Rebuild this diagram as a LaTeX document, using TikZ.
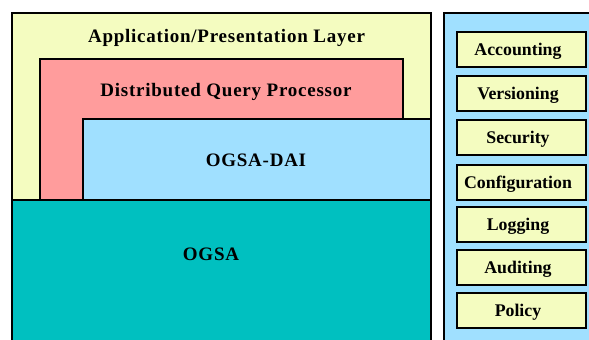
\documentclass[tikz,border=0pt]{standalone}
\usepackage{fontspec}
\setmainfont{Liberation Serif}
\definecolor{cyel}{HTML}{F4FCC0}
\definecolor{cpink}{HTML}{FF9C9C}
\definecolor{cblue}{HTML}{A0E0FF}
\definecolor{cteal}{HTML}{00C0C0}
\begin{document}
\begin{tikzpicture}[x=1pt,y=-1pt,
  layer/.style={draw=black,line width=2.2pt},
  svc/.style={draw=black,line width=2.6pt,fill=cyel},
  biglabel/.style={anchor=base,inner sep=0pt,font=\fontsize{19}{22}\selectfont\bfseries\addfontfeature{LetterSpace=4}},
  svclabel/.style={anchor=base,inner sep=0pt,font=\fontsize{17.8}{20}\selectfont\bfseries}]
\useasboundingbox (0,0) rectangle (589,340);
\clip (0,0) rectangle (589,340);
\fill[white] (0,0) rectangle (589,340);
% left stack
\draw[layer,fill=cyel] (12,13) rectangle (431,350);
\draw[layer,fill=cpink] (40,59) rectangle (403,350);
\draw[layer,fill=cblue] (83,119) rectangle (431,350);
\draw[layer,fill=cteal] (12,200) rectangle (431,350);
\node[biglabel] (app) at (226.5,42.5) {Application/Presentation Layer};
\node[biglabel] (dqp) at (226,96) {Distributed Query Processor};
\node[biglabel] (dai) at (256,166) {OGSA-DAI};
\node[biglabel] (ogsa) at (211,260) {OGSA};
% right panel
\draw[layer,fill=cblue] (444,13) rectangle (600,350);
\foreach \t/\y [count=\i] in {Accounting/32,Versioning/76,Security/120,Configuration/165,Logging/207,Auditing/250,Policy/293}{
  \draw[svc] (457,\y) rectangle (586,\y+35);
  \node[svclabel] (s\i) at (518,\y+23.5) {\t};
}
\end{tikzpicture}
\end{document}
